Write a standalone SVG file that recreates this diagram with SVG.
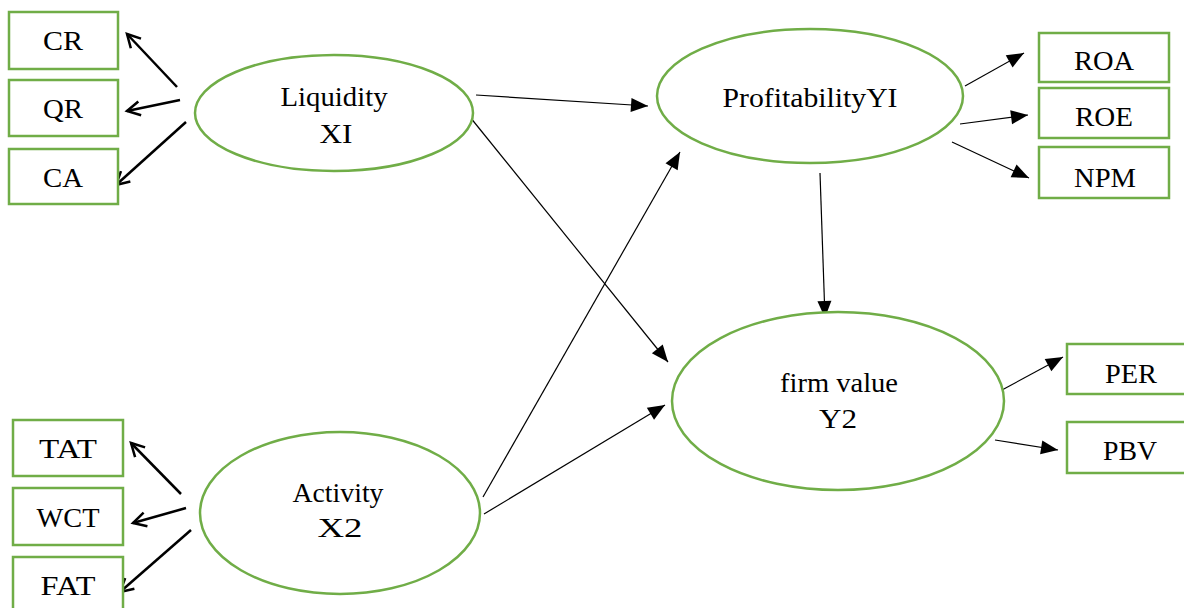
<svg xmlns="http://www.w3.org/2000/svg" width="1184" height="608" viewBox="0 0 1184 608">
<defs>
<style>
.box{fill:#fff;stroke:#70AD47;stroke-width:2.5}
.ell{fill:#fff;stroke:#70AD47;stroke-width:2.5}
.t{font-family:"Liberation Serif","Times New Roman",serif;font-size:27px;fill:#000;text-anchor:middle}
.thin{stroke:#000;stroke-width:1.2;fill:none;marker-end:url(#tri)}
.thick{stroke:#000;stroke-width:2.5;fill:none;marker-end:url(#vee)}
</style>
<marker id="tri" markerUnits="userSpaceOnUse" markerWidth="18" markerHeight="14" refX="17" refY="7" orient="auto" overflow="visible">
<path d="M0,0 L17,7 L0,14 z" fill="#000"/>
</marker>
<marker id="vee" markerUnits="userSpaceOnUse" markerWidth="18" markerHeight="18" refX="15" refY="8" orient="auto" overflow="visible">
<path d="M2,1 L15,8 L2,15" fill="none" stroke="#000" stroke-width="2.5" stroke-linejoin="miter"/>
</marker>
</defs>
<rect width="1184" height="608" fill="#fff"/>
<g id="connectors">
<line class="thick" x1="177" y1="87" x2="127" y2="34"/>
<line class="thick" x1="180" y1="100" x2="127" y2="111"/>
<line class="thick" x1="186" y1="122" x2="116" y2="185"/>
<line class="thick" x1="181" y1="494" x2="131" y2="443"/>
<line class="thick" x1="186" y1="508" x2="133" y2="523"/>
<line class="thick" x1="191" y1="530" x2="120" y2="592"/>
<line class="thin" x1="476" y1="95" x2="648" y2="106"/>
<line class="thin" x1="470" y1="117" x2="668" y2="362"/>
<line class="thin" x1="483" y1="497" x2="680" y2="152"/>
<line class="thin" x1="484" y1="514" x2="665" y2="405"/>
<line class="thin" x1="820" y1="173" x2="825" y2="318"/>
<line class="thin" x1="965" y1="86" x2="1024" y2="53"/>
<line class="thin" x1="960" y1="124" x2="1028" y2="115"/>
<line class="thin" x1="952" y1="142" x2="1029" y2="178"/>
<line class="thin" x1="1002" y1="390" x2="1063" y2="357"/>
<line class="thin" x1="995" y1="440" x2="1058" y2="450"/>
</g>
<g id="CR"><rect class="box" x="9" y="12" width="109" height="57"/><text class="t" x="63" y="50" textLength="40" lengthAdjust="spacingAndGlyphs">CR</text></g>
<g id="QR"><rect class="box" x="9" y="80" width="109" height="56"/><text class="t" x="63" y="118" textLength="40" lengthAdjust="spacingAndGlyphs">QR</text></g>
<g id="CA"><rect class="box" x="9" y="149" width="109" height="55"/><text class="t" x="63" y="187" textLength="40" lengthAdjust="spacingAndGlyphs">CA</text></g>
<g id="TAT"><rect class="box" x="13" y="420" width="110" height="56"/><text class="t" x="68" y="458" textLength="58" lengthAdjust="spacingAndGlyphs">TAT</text></g>
<g id="WCT"><rect class="box" x="13" y="488" width="110" height="57"/><text class="t" x="68" y="527" textLength="63" lengthAdjust="spacingAndGlyphs">WCT</text></g>
<g id="FAT"><rect class="box" x="13" y="557" width="110" height="60"/><text class="t" x="68" y="595" textLength="55" lengthAdjust="spacingAndGlyphs">FAT</text></g>
<g id="ROA"><rect class="box" x="1039" y="33" width="130" height="49"/><text class="t" x="1104" y="70" textLength="60" lengthAdjust="spacingAndGlyphs">ROA</text></g>
<g id="ROE"><rect class="box" x="1039" y="88" width="130" height="50"/><text class="t" x="1104" y="126" textLength="58" lengthAdjust="spacingAndGlyphs">ROE</text></g>
<g id="NPM"><rect class="box" x="1039" y="147" width="130" height="51"/><text class="t" x="1105" y="187" textLength="62" lengthAdjust="spacingAndGlyphs">NPM</text></g>
<g id="PER"><rect class="box" x="1067" y="344" width="130" height="50"/><text class="t" x="1131" y="383" textLength="52" lengthAdjust="spacingAndGlyphs">PER</text></g>
<g id="PBV"><rect class="box" x="1067" y="422" width="130" height="51"/><text class="t" x="1130" y="460" textLength="54" lengthAdjust="spacingAndGlyphs">PBV</text></g>
<g id="liquidity"><ellipse class="ell" cx="334" cy="113" rx="139" ry="58"/><text class="t" x="334" y="106" textLength="107" lengthAdjust="spacingAndGlyphs">Liquidity</text><text class="t" x="336" y="143" textLength="33" lengthAdjust="spacingAndGlyphs">XI</text></g>
<g id="profitability"><ellipse class="ell" cx="810" cy="96" rx="153" ry="67"/><text class="t" x="810" y="107" textLength="175" lengthAdjust="spacingAndGlyphs">ProfitabilityYI</text></g>
<g id="firmvalue"><ellipse class="ell" cx="838" cy="401" rx="166" ry="89"/><text class="t" x="839" y="392" textLength="118" lengthAdjust="spacingAndGlyphs">firm value</text><text class="t" x="838" y="428" textLength="38" lengthAdjust="spacingAndGlyphs">Y2</text></g>
<g id="activity"><ellipse class="ell" cx="340" cy="513" rx="140" ry="81"/><text class="t" x="338" y="502" textLength="91" lengthAdjust="spacingAndGlyphs">Activity</text><text class="t" x="340" y="537" textLength="45" lengthAdjust="spacingAndGlyphs">X2</text></g>
</svg>
